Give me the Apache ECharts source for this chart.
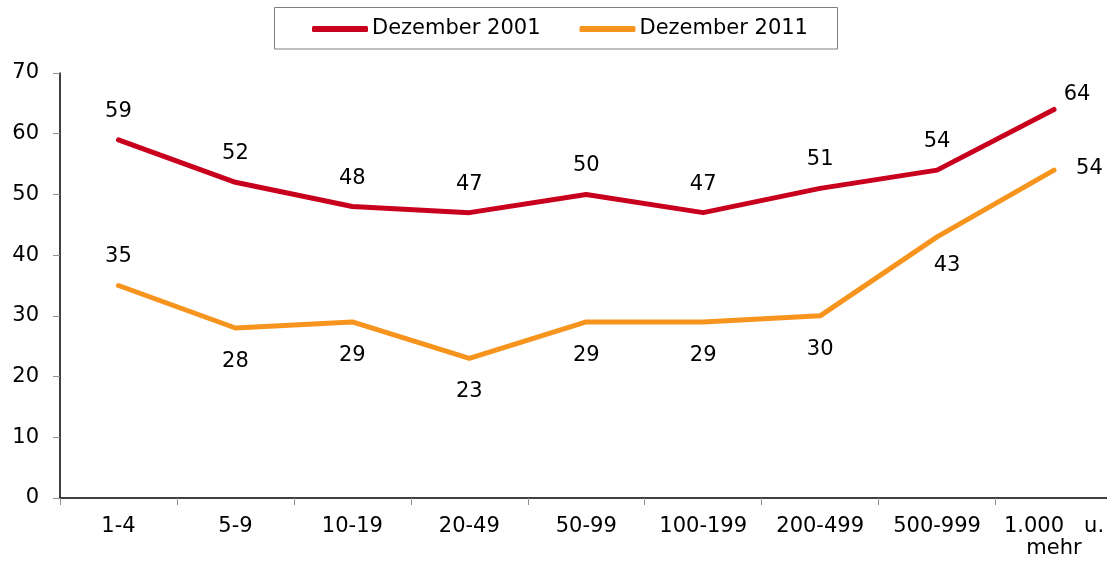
<!DOCTYPE html>
<html>
<head>
<meta charset="utf-8">
<script src="https://cdn.jsdelivr.net/npm/echarts@6/dist/echarts.min.js"></script>
<style>html,body{margin:0;padding:0;background:#fff}#c{width:1107px;height:562px}</style>
</head>
<body>
<div id="c"></div>
<script>
const categories = ['1-4', '5-9', '10-19', '20-49', '50-99', '100-199', '200-499', '500-999', '1.000   u.\nmehr'];
const seriesNames = ['Dezember 2001', 'Dezember 2011'];
const values2001 = [59, 52, 48, 47, 50, 47, 51, 54, 64];
const values2011 = [35, 28, 29, 23, 29, 29, 30, 43, 54];
const yTicks = [0, 10, 20, 30, 40, 50, 60, 70];

// label placement per point (not data)
const place2001 = ['top','top','top','top','top','top','top','top','ur'];
const place2011 = ['top','bottom','bottom','bottom','bottom','bottom','bottom','bottom','right'];

const FONT = 'DejaVu Sans';
function labelFor(p, i, n) {
  if (p === 'top') return {position: 'top', distance: 18};
  if (p === 'bottom') return {position: 'bottom', distance: 23, offset: i === n - 2 ? [10, -5] : [0, 0]};
  if (p === 'ur') return {position: 'top', distance: 4, offset: [23, 0]};
  if (p === 'right') return {position: 'right', distance: 22, offset: [0, -2]};
}
function build(vals, places) {
  return vals.map((v, i) => ({value: v, label: labelFor(places[i], i, vals.length)}));
}

const chart = echarts.init(document.getElementById('c'), null, {renderer: 'canvas'});
chart.setOption({
  animation: false,
  backgroundColor: '#fff',
  textStyle: {fontFamily: FONT},
  grid: {left: 60, width: 1052.5, top: 73, bottom: 64, containLabel: false, outerBoundsMode: 'none'},
  legend: {
    left: 312, top: 18, padding: 0,
    itemWidth: 56, itemHeight: 6, itemGap: 39,
    icon: 'roundRect',
    textStyle: {fontFamily: FONT, fontSize: 21, color: '#000', lineHeight: 22, padding: [0, 0, 0, -1]},
    data: seriesNames
  },
  graphic: [{
    type: 'rect', x: 0, y: 0,
    shape: {x: 274.5, y: 7.5, width: 563, height: 41.5},
    style: {fill: 'none', stroke: '#808080', lineWidth: 1}, z: -1
  }],
  xAxis: {
    type: 'category', data: categories, boundaryGap: true,
    axisLine: {lineStyle: {color: '#000', width: 1.5}},
    axisTick: {show: true, length: 7, lineStyle: {color: '#909090'}},
    axisLabel: {fontFamily: FONT, fontSize: 21, color: '#000', margin: 18, lineHeight: 22, interval: 0}
  },
  yAxis: {
    type: 'value', min: yTicks[0], max: yTicks[yTicks.length - 1], interval: 10,
    axisLine: {show: true, lineStyle: {color: '#000', width: 1.5}},
    axisTick: {show: true, length: 7, lineStyle: {color: '#909090'}},
    axisLabel: {fontFamily: FONT, fontSize: 21, color: '#000', margin: 21},
    splitLine: {show: false}
  },
  series: [
    {
      name: seriesNames[0], type: 'line', data: build(values2001, place2001),
      symbol: 'circle', symbolSize: 0, showSymbol: true, color: '#C8001E',
      lineStyle: {width: 5, color: '#C8001E', cap: 'round', join: 'round'},
      label: {show: true, fontFamily: FONT, fontSize: 21, color: '#000'}
    },
    {
      name: seriesNames[1], type: 'line', data: build(values2011, place2011),
      symbol: 'circle', symbolSize: 0, showSymbol: true, color: '#F7941D',
      lineStyle: {width: 5, color: '#F7941D', cap: 'round', join: 'round'},
      label: {show: true, fontFamily: FONT, fontSize: 21, color: '#000'}
    }
  ]
});
</script>
</body>
</html>
